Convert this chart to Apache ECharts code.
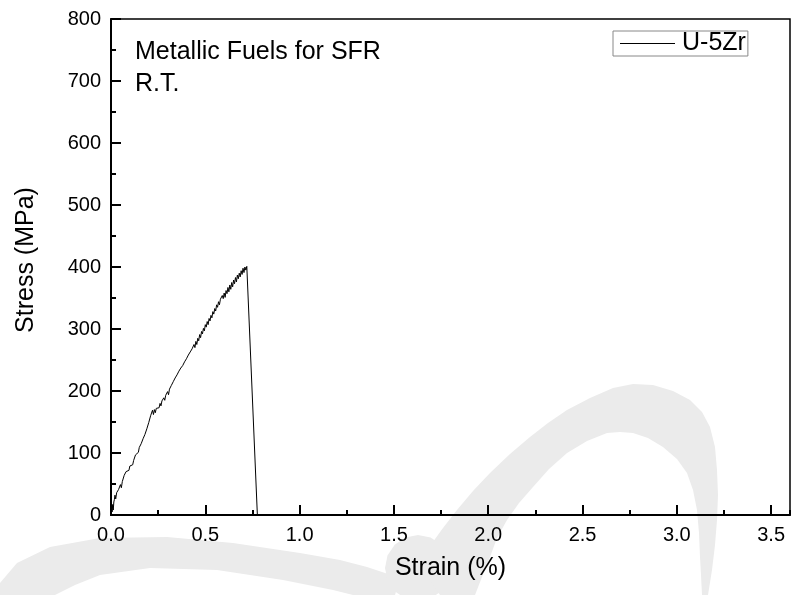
<!DOCTYPE html>
<html>
<head>
<meta charset="utf-8">
<script src="https://cdn.jsdelivr.net/npm/echarts@6/dist/echarts.min.js"></script>
<style>html,body{margin:0;padding:0;background:#fff;}#c{width:792px;height:595px;}</style>
</head>
<body>
<div id="c"></div>
<script>
// ---- data ----
const seriesName = 'U-5Zr';
const strain = [
0.000,0.003,0.006,0.009,0.012,0.015,0.018,0.021,0.025,0.030,0.035,0.040,0.045,0.050,0.055,0.060,0.065,0.070,0.075,0.080,
0.085,0.090,0.095,0.100,0.105,0.110,0.115,0.120,0.125,0.130,0.135,0.140,0.145,0.150,0.155,0.160,0.165,0.170,0.175,0.180,
0.185,0.190,0.195,0.200,0.205,0.210,0.215,0.220,0.225,0.230,0.235,0.240,0.245,0.250,0.255,0.260,0.265,0.270,0.275,0.280,
0.285,0.290,0.295,0.300,0.305,0.310,0.315,0.320,0.325,0.330,0.335,0.340,0.345,0.350,0.355,0.360,0.365,0.370,0.375,0.380,
0.385,0.390,0.395,0.400,0.405,0.410,0.415,0.420,0.425,0.430,0.435,0.440,0.445,0.450,0.455,0.460,0.465,0.470,0.475,0.480,
0.485,0.490,0.495,0.500,0.505,0.510,0.515,0.520,0.525,0.530,0.535,0.540,0.545,0.550,0.555,0.560,0.565,0.570,0.575,0.580,
0.585,0.590,0.595,0.600,0.605,0.610,0.615,0.620,0.625,0.630,0.635,0.640,0.645,0.650,0.655,0.660,0.665,0.670,0.675,0.680,
0.685,0.690,0.695,0.700,0.705,0.710,0.715,0.720,0.776
];
const stress = [
3,14,5,17,8,21,25,32,26,36,
37,41,43,49,44,54,56,64,65,70,
69,73,72,79,77,80,81,88,89,97,
97,100,101,109,108,115,115,123,122,130,
131,139,140,149,150,160,163,169,162,170,
165,172,170,174,173,180,176,184,182,189,
185,193,191,199,194,203,202,209,207,215,
213,221,219,226,225,232,230,237,234,241,
240,247,244,252,251,258,256,263,260,268,
265,275,270,280,275,285,281,291,286,296,
292,301,297,307,303,312,307,317,313,322,
318,328,324,333,329,339,335,344,339,348,
345,354,349,358,351,362,357,367,360,371,
364,375,368,379,373,383,376,387,381,390,
384,394,388,398,391,400,395,401,0
];
const xMin = 0, xMax = 3.6, xStep = 0.5, xMinorStep = 0.25;
const yMin = 0, yMax = 800, yStep = 100;
const xTitle = 'Strain (%)';
const yTitle = 'Stress (MPa)';
const noteLines = ['Metallic Fuels for SFR', 'R.T.'];

// ---- chart ----
const FONT = 'Arial, "Liberation Sans", Helvetica, sans-serif';
const pts = strain.map((s, i) => [s, stress[i]]);
const chart = echarts.init(document.getElementById('c'), null, {renderer: 'canvas'});
const wm = '#ebebeb';
chart.setOption({
  animation: false,
  backgroundColor: '#fff',
  grid: {left: 111, right: 2, top: 19, bottom: 80, show: true, borderColor: '#000', borderWidth: 1.5, backgroundColor: 'transparent'},
  legend: {
    data: [seriesName], left: 613, top: 31, orient: 'horizontal',
    icon: 'rect', itemWidth: 55, itemHeight: 1, itemGap: 0,
    itemStyle: {color: '#000', borderWidth: 0},
    lineStyle: {width: 0},
    padding: [0, 2, 0, 7],
    borderColor: '#888', borderWidth: 1,
    textStyle: {fontFamily: FONT, fontSize: 25, lineHeight: 24, color: '#000', padding: [0, 0, 0, 2]}
  },
  xAxis: [{
    type: 'value', min: xMin, max: xMax, interval: xStep, position: 'bottom',
    name: xTitle, nameLocation: 'middle', nameGap: 41,
    nameTextStyle: {fontFamily: FONT, fontSize: 25, color: '#000'},
    axisLine: {show: true, lineStyle: {color: '#000', width: 2}},
    axisTick: {show: true, inside: true, length: 10, lineStyle: {color: '#000', width: 2}},
    axisLabel: {fontFamily: FONT, fontSize: 20, color: '#000', margin: 10, showMaxLabel: false,
      formatter: v => v.toFixed(1)},
    splitLine: {show: false}
  }, {
    type: 'value', min: xMin, max: xMax, interval: xMinorStep, position: 'bottom',
    axisLine: {show: false},
    axisTick: {show: true, inside: true, length: 5, lineStyle: {color: '#000', width: 2}},
    axisLabel: {show: false},
    splitLine: {show: false}
  }],
  yAxis: {
    type: 'value', min: yMin, max: yMax, interval: yStep,
    name: yTitle, nameLocation: 'middle', nameGap: 72,
    nameTextStyle: {fontFamily: FONT, fontSize: 25, color: '#000', padding: [0, 0, 0, 14]},
    axisLine: {show: true, lineStyle: {color: '#000', width: 2}},
    axisTick: {show: true, inside: true, length: 10, lineStyle: {color: '#000', width: 2}},
    minorTick: {show: true, splitNumber: 2, length: 5, lineStyle: {color: '#000', width: 2}},
    axisLabel: {fontFamily: FONT, fontSize: 20, color: '#000', margin: 10},
    splitLine: {show: false}
  },
  graphic: [
    {type: 'polygon', z: -100, silent: true, shape: {points: [
      [0,583],[17,563],[50,547],[100,538],[167,537],[233,543],[300,553],[340,560],[367,567],[400,578],
      [395,595],[353,595],[333,590],[283,580],[217,570],[150,568],[100,575],[75,585],[55,595],[0,595]]},
      style: {fill: wm}},
    {type: 'polygon', z: -100, silent: true, shape: {points: [
      [451,568],[448.5,580.6],[441.3,591.3],[430.6,598.5],[418,601],[405.4,598.5],[394.7,591.3],[387.5,580.6],
      [385,568],[387.5,555.4],[394.7,544.7],[405.4,537.5],[418,535],[430.6,537.5],[441.3,544.7],[448.5,555.4]]},
      style: {fill: wm}},
    {type: 'polygon', z: -100, silent: true, shape: {points: [
      [418,562],[430,546],[443,528],[457,510],[473,491],[490,473],[510,454],[530,437],[548,423],[567,410],[590,398],[613,388],[633,384],[653,385],[673,391],[690,400],[702,412],[710,427],[715,447],
      [717,470],[718,495],[717,520],[715,545],[712,570],[708,595],[702,595],[701,575],[700,557],[699,533],[697,510],[693,490],[687,473],[677,459],[663,447],[648,438],[633,433],
      [620,432],[607,433],[587,441],[567,453],[549,469],[533,487],[519,503],[507,520],[497,538],[490,557],[482,577],[475,595],[440,595]]},
      style: {fill: wm}},
    {type: 'text', left: 135, top: 40, z: 10, style: {text: noteLines[0], font: '25px ' + FONT, fill: '#000'}},
    {type: 'text', left: 135, top: 72, z: 10, style: {text: noteLines[1], font: '25px ' + FONT, fill: '#000'}}
  ],
  series: [{
    name: seriesName, type: 'line', xAxisIndex: 0, yAxisIndex: 0, data: pts,
    symbol: 'none', showSymbol: false, smooth: false,
    lineStyle: {color: '#000', width: 1}, itemStyle: {color: '#000'}
  }]
});
</script>
</body>
</html>
